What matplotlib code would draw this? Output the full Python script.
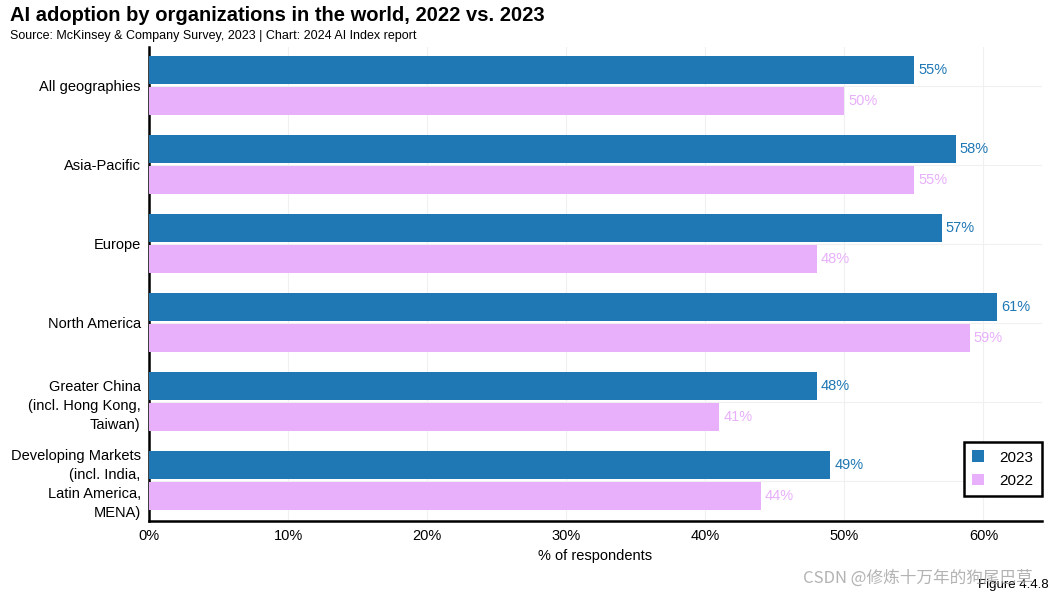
import numpy as np
import matplotlib

matplotlib.use('Agg')
import matplotlib.pyplot as plt

plt.rcParams['font.family'] = ['Liberation Sans', 'DejaVu Sans']

regions = ['All geographies', 'Asia-Pacific', 'Europe', 'North America',
           'Greater China\n(incl. Hong Kong,\nTaiwan)',
           'Developing Markets\n(incl. India,\nLatin America,\nMENA)']
adoption_2023 = [55, 58, 57, 61, 48, 49]
adoption_2022 = [50, 55, 48, 59, 41, 44]
x_ticks = [0, 10, 20, 30, 40, 50, 60]

blue = '#1f77b4'
pink = '#e8b0fb'

fig = plt.figure(figsize=(10.62, 5.95), dpi=100, facecolor='w')
ax = fig.add_axes([0.1403, 0.1244, 0.8407, 0.7966])

y = np.arange(len(regions))
h = 0.355
b1 = ax.barh(y - 0.195, adoption_2023, height=h, color=blue, label='2023', zorder=3)
b2 = ax.barh(y + 0.195, adoption_2022, height=h, color=pink, label='2022', zorder=3)

for bar, v in zip(b1, adoption_2023):
    ax.text(v + 0.3, bar.get_y() + bar.get_height() / 2, f'{v}%', va='center',
            ha='left', color=blue, fontsize=10.5)
for bar, v in zip(b2, adoption_2022):
    ax.text(v + 0.3, bar.get_y() + bar.get_height() / 2, f'{v}%', va='center',
            ha='left', color=pink, fontsize=10.5)

ax.set_yticks(y)
ax.set_yticklabels(regions, fontsize=10.5, linespacing=1.45)
ax.set_ylim(5.51, -0.49)
ax.set_xlim(0, 64.2)
ax.set_xticks(x_ticks)
ax.set_xticklabels([f'{t}%' for t in x_ticks], fontsize=10.5)
ax.tick_params(length=0, pad=6)
ax.set_xlabel('% of respondents', fontsize=10.5, labelpad=4)

ax.grid(True, color='#f0f0f0', linewidth=0.8, zorder=0)
for s in ['top', 'right']:
    ax.spines[s].set_visible(False)
for s in ['left', 'bottom']:
    ax.spines[s].set_linewidth(1.8)
    ax.spines[s].set_color('black')

leg = ax.legend(loc='lower right', bbox_to_anchor=(1.0, 0.052), fontsize=11,
                handlelength=0.8, handleheight=0.8, fancybox=False, framealpha=1,
                borderpad=0.55, labelspacing=0.6, handletextpad=1.0, borderaxespad=0)
leg.get_frame().set_edgecolor('black')
leg.get_frame().set_linewidth(1.8)

fig.text(0.009, 0.965, 'AI adoption by organizations in the world, 2022 vs. 2023',
         fontsize=14.5, fontweight='bold', ha='left', va='baseline')
fig.text(0.009, 0.935, 'Source: McKinsey & Company Survey, 2023 | Chart: 2024 AI Index report',
         fontsize=9, ha='left', va='baseline')
fig.text(0.987, 0.012, 'Figure 4.4.8', fontsize=9.5, ha='right', va='baseline')
fig.text(0.756, 0.02, 'CSDN @修炼十万年的狗尾巴草', fontsize=12, color='#a0a0a0',
         ha='left', va='baseline', alpha=0.8,
         family=['Noto Sans CJK SC', 'DejaVu Sans'])

fig.savefig('out.png', dpi=100)
plt.close(fig)
